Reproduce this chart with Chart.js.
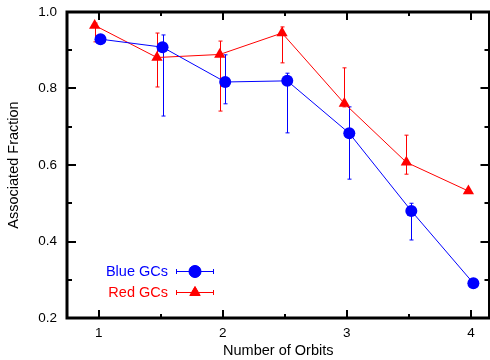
<!DOCTYPE html>
<html>
<head>
<meta charset="utf-8">
<script src="https://cdn.jsdelivr.net/npm/chart.js@4"></script>
<style>
html,body{margin:0;padding:0;background:#fff;overflow:hidden;}
#wrap{width:496px;height:360px;position:relative;}
</style>
</head>
<body>
<div id="wrap"><canvas id="c"></canvas></div>
<script>
// ---- data ----
const xTickValues = [1, 2, 3, 4];
const xMinorValues = [1.5, 2.5, 3.5];
const yTickValues = [0.2, 0.4, 0.6, 0.8, 1.0];
const yMinorValues = [0.3, 0.5, 0.7, 0.9];

const blueLabel = "Blue GCs";
const blueX    = [1.015, 1.515, 2.02, 2.52, 3.02, 3.52, 4.02];
const blueY    = [0.929, 0.908, 0.817, 0.820, 0.683, 0.480, 0.291];
const blueHigh = [0.935, 0.940, 0.888, 0.840, 0.752, 0.500, 0.291];
const blueLow  = [0.925, 0.728, 0.760, 0.684, 0.563, 0.404, 0.291];

const redLabel = "Red GCs";
const redX    = [0.968, 1.47, 1.976, 2.478, 2.98, 3.48, 3.98];
const redY    = [0.965, 0.881, 0.889, 0.945, 0.761, 0.607, 0.532];
const redHigh = [0.971, 0.945, 0.924, 0.961, 0.854, 0.678, 0.532];
const redLow  = [0.922, 0.804, 0.741, 0.867, 0.752, 0.576, 0.532];

const xTitle = "Number of Orbits";
const yTitle = "Associated Fraction";

const BLUE = "#0000ff", RED = "#ff0000";
const FONT = "'Liberation Sans', Arial, sans-serif";

function pts(xs, ys, hi, lo){ return xs.map((x,i)=>({x:x, y:ys[i], yHigh:hi[i], yLow:lo[i]})); }

const errorBars = {
  id: 'errorBars',
  beforeDatasetsDraw(chart){
    const ctx = chart.ctx, xs = chart.scales.x, ys = chart.scales.y;
    ctx.save();
    chart.data.datasets.forEach(ds=>{
      ctx.strokeStyle = ds.borderColor; ctx.lineWidth = 1;
      ds.data.forEach(p=>{
        if (p.yHigh === p.yLow) return;
        const px = Math.round(xs.getPixelForValue(p.x)) + 0.5;
        const ph = ys.getPixelForValue(p.yHigh), pl = ys.getPixelForValue(p.yLow);
        ctx.beginPath();
        ctx.moveTo(px, ph); ctx.lineTo(px, pl);
        ctx.moveTo(px-2, ph); ctx.lineTo(px+2, ph);
        ctx.moveTo(px-2, pl); ctx.lineTo(px+2, pl);
        ctx.stroke();
      });
    });
    ctx.restore();
  }
};

const frame = {
  id: 'frame',
  afterDraw(chart){
    const ctx = chart.ctx, a = chart.chartArea, xs = chart.scales.x, ys = chart.scales.y;
    ctx.save();
    ctx.strokeStyle = '#000';
    ctx.lineWidth = 3;
    ctx.strokeRect(a.left, a.top, a.right - a.left, a.bottom - a.top);
    ctx.lineWidth = 2;
    ctx.beginPath();
    const tick = (vals, len) => {
      vals.forEach(v=>{
        const px = Math.round(xs.getPixelForValue(v));
        ctx.moveTo(px, a.bottom); ctx.lineTo(px, a.bottom - len);
        ctx.moveTo(px, a.top); ctx.lineTo(px, a.top + len);
      });
    };
    const ytick = (vals, len) => {
      vals.forEach(v=>{
        const py = Math.round(ys.getPixelForValue(v));
        ctx.moveTo(a.left, py); ctx.lineTo(a.left + len, py);
        ctx.moveTo(a.right, py); ctx.lineTo(a.right - len, py);
      });
    };
    tick(xTickValues, 8); tick(xMinorValues, 4);
    ytick(yTickValues, 9); ytick(yMinorValues, 5);
    ctx.stroke();

    // legend
    const entries = [
      {label: blueLabel, color: BLUE, style: 'circle', r: 6, y: 271},
      {label: redLabel, color: RED, style: 'triangle', r: 6, y: 292}
    ];
    ctx.font = "14.5px " + FONT;
    ctx.textAlign = 'right'; ctx.textBaseline = 'middle';
    entries.forEach(e=>{
      ctx.fillStyle = e.color; ctx.strokeStyle = e.color; ctx.lineWidth = 1;
      ctx.fillText(e.label, 168, e.y + 0.5);
      ctx.beginPath();
      ctx.moveTo(176, e.y + 0.5); ctx.lineTo(214, e.y + 0.5);
      ctx.moveTo(176.5, e.y - 2); ctx.lineTo(176.5, e.y + 3);
      ctx.moveTo(213.5, e.y - 2); ctx.lineTo(213.5, e.y + 3);
      ctx.stroke();
      Chart.helpers.drawPoint(ctx, {pointStyle: e.style, radius: e.r, borderWidth: 1}, 195, e.y + 0.5);
      ctx.fill();
    });
    ctx.restore();
  }
};

new Chart(document.getElementById('c'), {
  type: 'line',
  data: {
    datasets: [
      { label: blueLabel, data: pts(blueX, blueY, blueHigh, blueLow), borderColor: BLUE, backgroundColor: BLUE,
        borderWidth: 1, pointStyle: 'circle', pointRadius: 6, pointBorderWidth: 0, tension: 0 },
      { label: redLabel, data: pts(redX, redY, redHigh, redLow), borderColor: RED, backgroundColor: RED,
        borderWidth: 1, pointStyle: 'triangle', pointRadius: 6.5, pointBorderWidth: 0, tension: 0 }
    ]
  },
  options: {
    responsive: true, maintainAspectRatio: false, animation: false,
    layout: { padding: { top: 12, right: 4, left: 0, bottom: 0 } },
    plugins: { legend: { display: false }, tooltip: { enabled: false } },
    scales: {
      x: {
        type: 'linear', min: 0.745, max: 4.15,
        afterBuildTicks: s => { s.ticks = xTickValues.map(v=>({value:v})); },
        afterFit: s => { s.height = 42; s.paddingLeft = 0; s.paddingRight = 0; },
        grid: { display: false, drawTicks: false, tickLength: 0 }, border: { display: false },
        ticks: { color: '#000', font: { family: FONT, size: 13.5 }, padding: 7, maxRotation: 0,
                 callback: v => String(v) },
        title: { display: true, text: xTitle, color: '#000', font: { family: FONT, size: 14.5 }, padding: { top: 0, bottom: 0 } }
      },
      y: {
        type: 'linear', min: 0.2, max: 1.0,
        afterBuildTicks: s => { s.ticks = yTickValues.map(v=>({value:v})); },
        afterFit: s => { s.width = 67; s.paddingTop = 0; s.paddingBottom = 0; },
        grid: { display: false, drawTicks: false, tickLength: 0 }, border: { display: false },
        ticks: { color: '#000', font: { family: FONT, size: 13.5 }, padding: 10,
                 callback: v => v.toFixed(1) },
        title: { display: true, text: yTitle, color: '#000', font: { family: FONT, size: 14.5 }, padding: { top: 5, bottom: 0 } }
      }
    }
  },
  plugins: [errorBars, frame]
});
</script>
</body>
</html>
